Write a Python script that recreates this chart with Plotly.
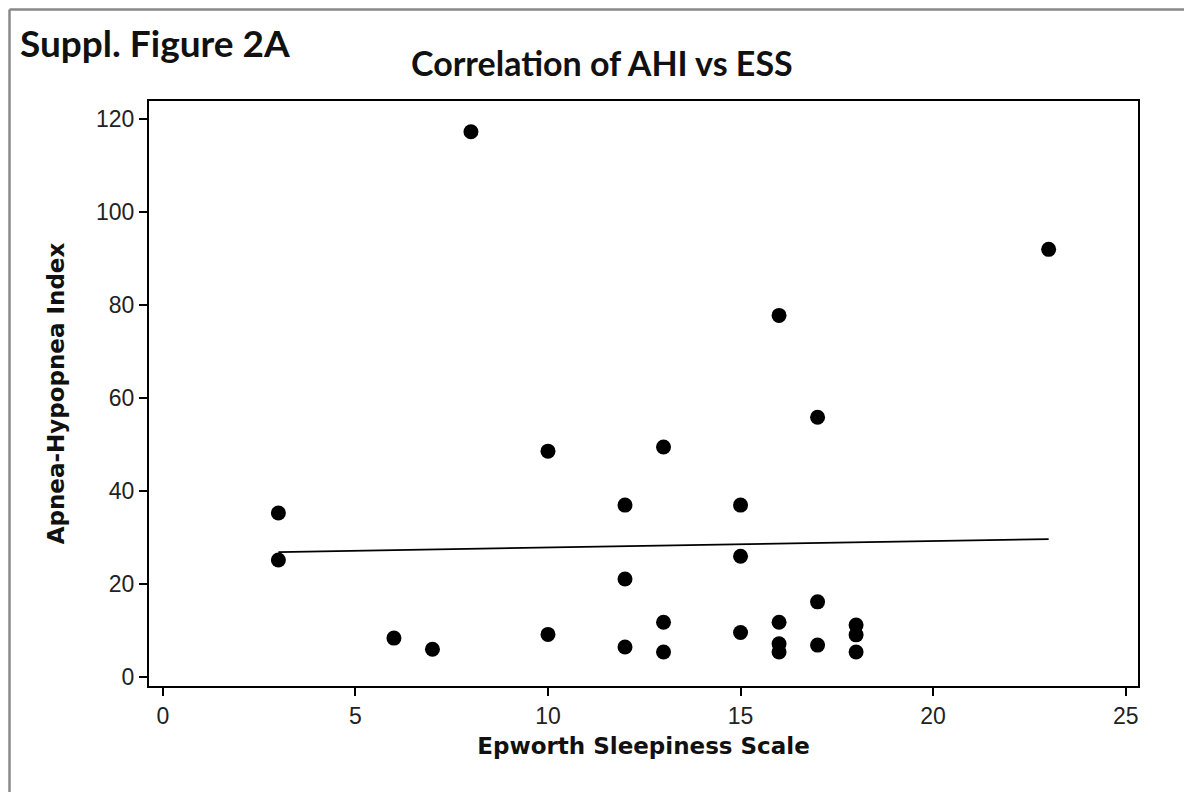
import plotly.graph_objects as go

# Data
ess = [3, 3, 6, 7, 8, 10, 10, 12, 12, 12, 13, 13, 13, 15, 15, 15,
       16, 16, 16, 16, 17, 17, 17, 18, 18, 18, 23]
ahi = [35.3, 25.2, 8.4, 6.0, 117.3, 48.6, 9.2, 37.0, 21.1, 6.5, 49.5, 11.8, 5.4,
       37.0, 26.0, 9.6, 77.8, 11.8, 7.2, 5.4, 55.9, 16.2, 6.9, 11.2, 9.1, 5.4, 92.0]

# Fitted line end points
fit_x = [3, 23]
fit_y = [26.9, 29.7]

x_ticks = [0, 5, 10, 15, 20, 25]
y_ticks = [0, 20, 40, 60, 80, 100, 120]

OFF = 8  # page body margin
W, H = 1192 - OFF, 792 - OFF
# plot area in page pixels: x 149..1138, y 101..686
L, T = 149 - OFF, 101 - OFF
R, B = W - (1138 - OFF), H - (686 - OFF)
pw, ph = W - L - R, H - T - B

def px_x(p):
    return (p - OFF - L) / pw

def px_y(p):
    return (H - B - (p - OFF)) / ph

fig = go.Figure()
fig.add_trace(go.Scatter(x=fit_x, y=fit_y, mode="lines",
                         line=dict(color="black", width=1.8), showlegend=False))
fig.add_trace(go.Scatter(x=ess, y=ahi, mode="markers",
                         marker=dict(color="black", size=15), showlegend=False))

axis_common = dict(showgrid=False, zeroline=False, showline=True, linecolor="black",
                   linewidth=2, mirror=True, ticks="outside", ticklen=8,
                   tickwidth=1.5, tickcolor="black",
                   tickfont=dict(family="Liberation Sans", size=23, color="#222"))

fig.update_layout(
    width=W, height=H,
    margin=dict(l=L, r=R, t=T, b=B),
    paper_bgcolor="white", plot_bgcolor="white",
    xaxis=dict(range=[-0.36, 25.32], tickvals=x_ticks,
               title=dict(text="<b>Epworth Sleepiness Scale</b>",
                          font=dict(family="DejaVu Sans", size=23, color="#111"),
                          standoff=10),
               **axis_common),
    yaxis=dict(range=[-1.9, 123.9], tickvals=y_ticks,
               title=dict(text="<b>Apnea-Hypopnea Index</b>",
                          font=dict(family="DejaVu Sans", size=23, color="#111"),
                          standoff=25),
               **axis_common),
    annotations=[
        dict(text="<b>Correlation of AHI vs ESS</b>", xref="paper", yref="paper",
             x=px_x(602), y=px_y(62), xanchor="center", yanchor="middle",
             showarrow=False, font=dict(family="Lato", size=34, color="#111")),
        dict(text="<b>Suppl. Figure 2A</b>", xref="paper", yref="paper",
             x=px_x(18), y=px_y(43), xanchor="left", yanchor="middle",
             showarrow=False, font=dict(family="Lato", size=37, color="#111")),
    ],
    shapes=[
        dict(type="line", xref="paper", yref="paper", x0=px_x(9.5), x1=px_x(9.5),
             y0=px_y(9.5), y1=px_y(800), line=dict(color="#888", width=2.5)),
        dict(type="line", xref="paper", yref="paper", x0=px_x(9.5), x1=px_x(1200),
             y0=px_y(9.5), y1=px_y(9.5), line=dict(color="#888", width=2.5)),
    ],
)

fig.write_html("out.html")
